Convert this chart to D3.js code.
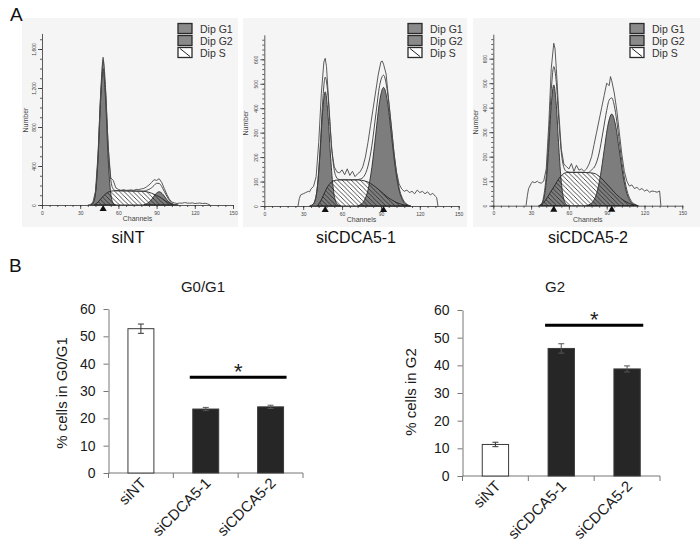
<!DOCTYPE html>
<html><head><meta charset="utf-8">
<script src="https://cdn.jsdelivr.net/npm/d3@7"></script>
<style>body{margin:0;background:#fff} svg{display:block}</style>
</head><body><svg id="c" width="700" height="560"></svg>
<script>
// ---------- DATA ----------
const histNames = ["siNT", "siCDCA5-1", "siCDCA5-2"];
const legendLabels = ["Dip G1", "Dip G2", "Dip S"];
const channelTicks = [0, 30, 60, 90, 120, 150];
const ntYTicks = [0, 400, 800, 1200, 1600];
const cdYTicks = [0, 100, 200, 300, 400, 500, 600];

// siNT histogram (channel, count)
const ntG1 = [[38,0],[40,17],[42,120],[44,470],[46,1060],[48,1400],[50,1060],[52,470],[54,120],[56,17],[58,0]];
const ntG2 = [[80,4],[83,18],[86,56],[89,109],[92,136],[95,109],[98,56],[101,18],[104,4],[107,0]];
const ntS = [[41,0],[44,30],[47,75],[50,115],[53,138],[56,145],[60,146],[65,145],[70,144],[75,142],[80,140],[84,130],[88,110],[92,85],[96,50],[100,18],[103,0]];
const ntFit = [[38,0],[40,17],[42,125],[44,500],[46,1120],[48,1490],[50,1180],[52,605],[54,262],[56,162],[58,147],[62,146],[66,145],[70,144],[74,143],[78,142],[80,142],[82,150],[84,160],[86,176],[88,200],[90,223],[92,221],[94,190],[96,140],[98,91],[100,48],[102,16],[104,4],[106,0]];
const ntData = [[36,0],[38,5],[40,30],[42,140],[44,520],[46,1120],[48,1515],[50,1150],[52,590],[54,280],[56,250],[58,175],[60,160],[62,150],[64,158],[66,150],[68,152],[70,155],[72,150],[74,160],[76,158],[78,165],[80,170],[82,185],[84,205],[86,230],[88,260],[90,252],[92,270],[94,232],[96,170],[98,110],[100,60],[102,30],[104,22],[106,15],[108,20],[110,18],[112,25],[114,20],[116,18],[118,22],[120,15],[122,18],[124,20],[126,15],[128,18],[130,12],[132,0]];
const ntMarks = [48];

// siCDCA5-1 histogram
const cd1G1 = [[35,0],[37,4],[39,20],[41,81],[43,214],[45,384],[47,467],[49,384],[51,214],[53,81],[55,20],[57,4],[59,0]];
const cd1G2 = [[72,0],[74,5],[77,21],[80,65],[83,158],[86,294],[89,428],[92,485],[95,428],[98,294],[101,158],[104,65],[107,21],[110,5],[113,0]];
const cd1S = [[41,0],[44,25],[47,60],[50,88],[53,102],[56,106],[60,107],[65,107],[70,107],[75,105],[80,98],[84,85],[88,68],[92,50],[96,33],[100,20],[104,10],[108,4],[112,0]];
const cd1Fit = [[35,0],[37,4],[39,20],[41,81],[43,229],[45,424],[47,527],[49,462],[51,307],[53,183],[55,125],[57,110],[60,107],[65,107],[70,107],[74,110],[77,122],[80,163],[83,246],[86,372],[89,493],[92,535],[95,468],[98,324],[101,176],[104,75],[107,27],[110,7],[113,0]];
const cd1Data = [[26,0],[27,30],[28,45],[30,50],[32,55],[34,60],[35,58],[36,70],[38,80],[40,120],[42,260],[44,460],[46,590],[47,604],[48,570],[50,400],[52,230],[54,160],[56,140],[58,135],[60,148],[62,128],[64,152],[66,125],[68,142],[70,120],[72,132],[74,140],[76,160],[78,200],[80,260],[82,330],[84,400],[86,470],[88,540],[90,590],[91,593],[92,580],[94,540],[96,430],[98,330],[100,220],[102,140],[104,90],[106,70],[108,60],[110,65],[112,55],[114,60],[116,50],[118,65],[120,55],[122,60],[124,50],[126,58],[128,45],[130,52],[132,40],[133,35],[134,0]];
const cd1Marks = [47, 92];

// siCDCA5-2 histogram
const cd2G1 = [[36,0],[38,5],[40,26],[42,95],[44,237],[46,410],[48,493],[50,410],[52,237],[54,95],[56,26],[58,5],[60,0]];
const cd2G2 = [[74,0],[76,4],[79,16],[82,50],[85,122],[88,227],[91,329],[94,374],[97,329],[100,227],[103,122],[106,50],[109,16],[112,4],[115,0]];
const cd2S = [[37,0],[40,12],[43,35],[46,60],[49,85],[52,110],[55,128],[58,135],[62,136],[66,136],[70,136],[75,135],[80,132],[84,120],[88,100],[92,78],[96,55],[100,35],[104,20],[108,9],[112,3],[115,0]];
const cd2Fit = [[36,0],[38,5],[40,38],[42,123],[44,280],[46,470],[48,568],[50,503],[52,347],[54,217],[56,156],[58,140],[62,136],[66,136],[70,136],[75,135],[78,146],[81,165],[84,215],[87,300],[90,389],[92,432],[94,440],[96,409],[98,345],[100,262],[103,146],[106,64],[109,23],[112,7],[115,0]];
const cd2Data = [[26,0],[27,40],[28,70],[30,90],[31,98],[33,94],[35,100],[36,95],[38,92],[40,100],[42,150],[44,330],[46,560],[48,663],[49,640],[50,560],[52,380],[54,230],[56,170],[58,160],[60,150],[62,172],[64,140],[66,165],[68,145],[70,150],[72,140],[74,150],[76,170],[78,200],[80,250],[82,300],[84,350],[86,400],[88,450],[90,500],[92,490],[93,527],[94,510],[96,460],[98,390],[100,300],[102,210],[104,140],[106,100],[108,80],[110,85],[112,70],[114,75],[116,65],[118,70],[120,60],[122,65],[124,55],[126,60],[128,58],[130,55],[132,60],[133,0]];
const cd2Marks = [48, 94];

// Bar charts (panel B)
const barCats = ["siNT", "siCDCA5-1", "siCDCA5-2"];
const barYTicks = [0, 10, 20, 30, 40, 50, 60];
const g1Values = [52.8, 23.4, 24.2];
const g1Errors = [1.7, 0.6, 0.6];
const g2Values = [11.4, 46.1, 38.7];
const g2Errors = [0.8, 1.7, 1.1];
const g1Sig = 35;
const g2Sig = 54.5;

// ---------- DRAW ----------
const FONT = "'Liberation Sans', Arial, Helvetica, sans-serif";
const svg = d3.select("#c").style("font-family", FONT);
svg.append("rect").attr("width", 700).attr("height", 560).attr("fill", "#fff");

const defs = svg.append("defs");
const pat = defs.append("pattern").attr("id", "hatch").attr("patternUnits", "userSpaceOnUse")
  .attr("width", 4.5).attr("height", 4.5);
pat.append("path").attr("d", "M0,0L4.5,4.5M-1,3.5L1,5.5M3.5,-1L5.5,1")
  .attr("stroke", "#222").attr("stroke-width", 0.8);

const histPanels = [
  {name: histNames[0], g1: ntG1, g2: ntG2, s: ntS, fit: ntFit, data: ntData, marks: ntMarks,
   xr: [42, 233], yr: [205, 33.4], yMax: 1760, yTicks: ntYTicks, yMinor: 100,
   bg: [22, 18, 216, 209], legX: 178, numX: 28, numY: 120, labX: 128},
  {name: histNames[1], g1: cd1G1, g2: cd1G2, s: cd1S, fit: cd1Fit, data: cd1Data, marks: cd1Marks,
   xr: [264.3, 458.7], yr: [206, 34.85], yMax: 700, yTicks: cdYTicks, yMinor: 20,
   bg: [243, 18, 224, 209], legX: 408, numX: 248, numY: 123, labX: 356},
  {name: histNames[2], g1: cd2G1, g2: cd2G2, s: cd2S, fit: cd2Fit, data: cd2Data, marks: cd2Marks,
   xr: [493.3, 682.3], yr: [205.7, 34.2], yMax: 700, yTicks: cdYTicks, yMinor: 20,
   bg: [473, 18, 227, 209], legX: 630, numX: 478, numY: 122, labX: 588}
];

histPanels.forEach(p => {
  const g = svg.append("g");
  g.append("rect").attr("x", p.bg[0]).attr("y", p.bg[1]).attr("width", p.bg[2]).attr("height", p.bg[3])
    .attr("fill", "#f5f5f5");
  const x = d3.scaleLinear().domain([0, 150]).range(p.xr);
  const y = d3.scaleLinear().domain([0, p.yMax]).range(p.yr);
  const area = d3.area().x(d => x(d[0])).y0(y(0)).y1(d => y(d[1])).curve(d3.curveMonotoneX);
  const line = d3.line().x(d => x(d[0])).y(d => y(d[1])).curve(d3.curveMonotoneX);
  const rawLine = d3.line().x(d => x(d[0])).y(d => y(d[1]));

  g.append("path").datum(p.s).attr("d", area).attr("fill", "#fff");
  [p.g1, p.g2].forEach(c => {
    g.append("path").datum(c).attr("d", area).attr("fill", "#7d7d7d")
      .attr("stroke", "#2e2e2e").attr("stroke-width", 0.9);
  });
  g.append("path").datum(p.s).attr("d", area).attr("fill", "url(#hatch)")
    .attr("stroke", "#222").attr("stroke-width", 0.9);
  g.append("path").datum(p.fit).attr("d", line).attr("fill", "none")
    .attr("stroke", "#3a3a3a").attr("stroke-width", 0.9);
  g.append("path").datum(p.data).attr("d", rawLine).attr("fill", "none")
    .attr("stroke", "#4a4a4a").attr("stroke-width", 0.9);

  // axes
  const xAx = g.append("g").attr("transform", `translate(0,${p.yr[0]})`)
    .call(d3.axisBottom(x).tickValues(channelTicks).tickSize(4).tickSizeOuter(0).tickPadding(2));
  g.append("g").attr("transform", `translate(0,${p.yr[0]})`)
    .call(d3.axisBottom(x).tickValues(d3.range(0, 151, 6)).tickSize(2).tickFormat(""))
    .select(".domain").remove();
  const yAx = g.append("g").attr("transform", `translate(${p.xr[0]},0)`)
    .call(d3.axisLeft(y).tickValues(p.yTicks).tickSize(4).tickSizeOuter(0));
  g.append("g").attr("transform", `translate(${p.xr[0]},0)`)
    .call(d3.axisLeft(y).tickValues(d3.range(0, p.yMax, p.yMinor)).tickSize(2).tickFormat(""))
    .select(".domain").remove();
  g.selectAll(".tick line, .domain").attr("stroke", "#333").attr("stroke-width", 0.8);
  xAx.selectAll("text").attr("font-size", 5).attr("fill", "#444").attr("font-family", FONT);
  yAx.selectAll("text").attr("font-size", 5).attr("fill", "#444").attr("font-family", FONT)
    .attr("transform", "rotate(-90)").attr("x", 0).attr("y", -6).attr("dy", 0)
    .attr("text-anchor", "middle");

  // cycle markers
  p.marks.forEach(m => {
    g.append("path").attr("d", d3.symbol(d3.symbolTriangle, 22)())
      .attr("transform", `translate(${x(m)},${p.yr[0] + 4})`).attr("fill", "#111");
  });

  g.append("text").attr("transform", `translate(${p.numX},${p.numY}) rotate(-90)`)
    .attr("text-anchor", "middle").attr("font-size", 7).attr("fill", "#444").text("Number");
  g.append("text").attr("x", (p.xr[0] + p.xr[1]) / 2).attr("y", p.yr[0] + 16)
    .attr("text-anchor", "middle").attr("font-size", 7).attr("fill", "#444").text("Channels");

  // legend
  legendLabels.forEach((lab, i) => {
    const yy = 23.5 + i * 12;
    g.append("rect").attr("x", p.legX).attr("y", yy).attr("width", 14).attr("height", 10)
      .attr("fill", i < 2 ? "#8a8a8a" : "#fff").attr("stroke", "#2a2a2a").attr("stroke-width", 1.3);
    if (i === 2) {
      g.append("line").attr("x1", p.legX + 2).attr("y1", yy + 1).attr("x2", p.legX + 12).attr("y2", yy + 9)
        .attr("stroke", "#222").attr("stroke-width", 1);
    }
    g.append("text").attr("x", p.legX + 22).attr("y", yy + 9).attr("font-size", 10.5)
      .attr("fill", "#333").text(lab);
  });

  svg.append("text").attr("x", p.labX).attr("y", 243).attr("text-anchor", "middle")
    .attr("font-size", 16).attr("fill", "#111").text(p.name);
});

svg.append("text").attr("x", 10).attr("y", 21).attr("font-size", 19).attr("fill", "#111").text("A");
svg.append("text").attr("x", 9).attr("y", 272).attr("font-size", 19).attr("fill", "#111").text("B");

const barPanels = [
  {title: "G0/G1", ylabel: "% cells in G0/G1", vals: g1Values, errs: g1Errors, sig: g1Sig,
   xr: [108.5, 303], yr: [473, 309], titleX: 203, ylabX: 62, ylabY: 393},
  {title: "G2", ylabel: "% cells in G2", vals: g2Values, errs: g2Errors, sig: g2Sig,
   xr: [462.5, 660], yr: [476, 310], titleX: 555, ylabX: 411, ylabY: 392}
];

barPanels.forEach(p => {
  const g = svg.append("g");
  const x = d3.scaleBand().domain(barCats).range(p.xr).paddingInner(0.6).paddingOuter(0.3);
  const xo = d3.scaleBand().domain(barCats).range(p.xr);
  const y = d3.scaleLinear().domain([0, 60]).range(p.yr);

  const yAx = g.append("g").attr("transform", `translate(${p.xr[0]},0)`)
    .call(d3.axisLeft(y).tickValues(barYTicks).tickSize(5).tickSizeOuter(0).tickPadding(8));
  yAx.selectAll("text").attr("font-size", 14).attr("fill", "#1a1a1a").attr("font-family", FONT);

  // x axis with boundary ticks
  const xAx = g.append("g").attr("transform", `translate(0,${p.yr[0]})`);
  xAx.append("line").attr("x1", p.xr[0]).attr("x2", p.xr[1]).attr("stroke", "#777");
  barCats.concat(["__end"]).forEach((c, i) => {
    const bx = i < barCats.length ? xo(c) : p.xr[1];
    xAx.append("line").attr("x1", bx).attr("x2", bx).attr("y1", 0).attr("y2", 5).attr("stroke", "#777");
  });
  yAx.selectAll(".tick line, .domain").attr("stroke", "#777");

  g.selectAll(".bar").data(barCats).enter().append("rect")
    .attr("x", c => x(c)).attr("width", x.bandwidth())
    .attr("y", (c, i) => y(p.vals[i])).attr("height", (c, i) => y(0) - y(p.vals[i]))
    .attr("fill", (c, i) => i === 0 ? "#fff" : "#262626")
    .attr("stroke", "#3a3a3a").attr("stroke-width", 1);

  barCats.forEach((c, i) => {
    const cx = x(c) + x.bandwidth() / 2;
    const lo = y(p.vals[i] - p.errs[i]), hi = y(p.vals[i] + p.errs[i]);
    const col = i === 0 ? "#333" : "#555";
    g.append("line").attr("x1", cx).attr("x2", cx).attr("y1", lo).attr("y2", hi).attr("stroke", col);
    [lo, hi].forEach(yy => g.append("line").attr("x1", cx - 3).attr("x2", cx + 3).attr("y1", yy).attr("y2", yy)
      .attr("stroke", col));
    g.append("text").attr("transform", `translate(${xo(c) + xo.bandwidth() / 2 + 6},${p.yr[0] + 11}) rotate(-45)`)
      .attr("text-anchor", "end").attr("font-size", 15).attr("fill", "#1a1a1a").text(c);
  });

  // significance bar
  const sx1 = x(barCats[1]) - 3, sx2 = x(barCats[2]) + x.bandwidth() + 3;
  g.append("line").attr("x1", sx1).attr("x2", sx2).attr("y1", y(p.sig)).attr("y2", y(p.sig))
    .attr("stroke", "#000").attr("stroke-width", 3);
  g.append("text").attr("x", (x(barCats[1]) + x(barCats[2]) + x.bandwidth()) / 2).attr("y", y(p.sig) + 2)
    .attr("text-anchor", "middle").attr("font-size", 22).attr("fill", "#222").text("*");

  g.append("text").attr("x", p.titleX).attr("y", 292).attr("text-anchor", "middle")
    .attr("font-size", 15).attr("fill", "#1a1a1a").text(p.title);
  g.append("text").attr("transform", `translate(${p.ylabX + 5},${p.ylabY}) rotate(-90)`)
    .attr("text-anchor", "middle").attr("font-size", 15).attr("fill", "#1a1a1a").text(p.ylabel);
});
</script></body></html>
